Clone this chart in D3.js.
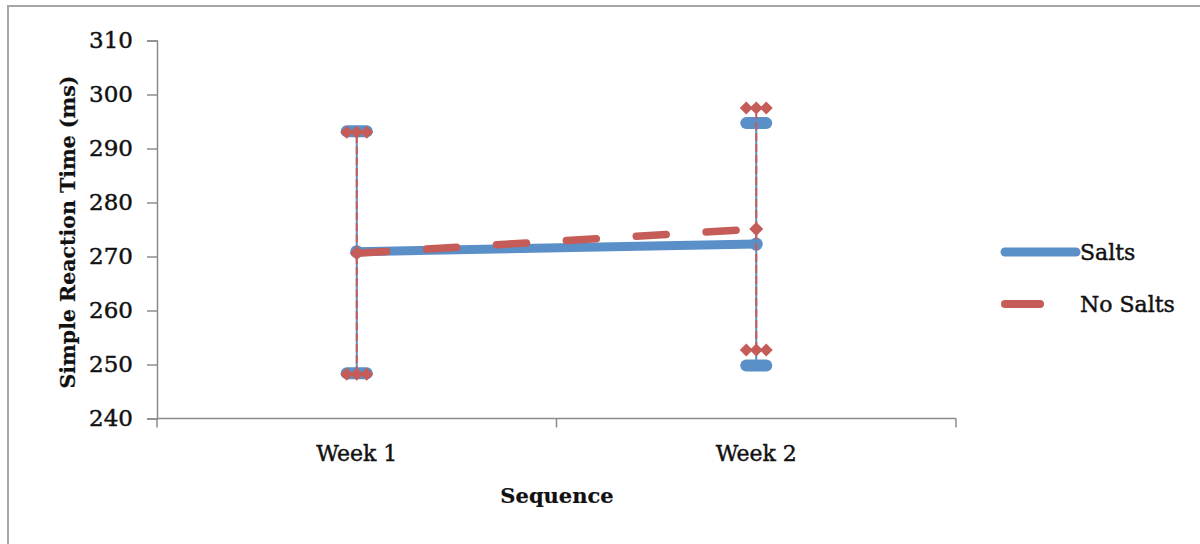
<!DOCTYPE html>
<html>
<head>
<meta charset="utf-8">
<script src="https://cdn.jsdelivr.net/npm/d3@7"></script>
<style>
  body { margin: 0; background: #fff; }
  text { font-family: "DejaVu Serif", "Liberation Serif", serif; fill: #111; stroke: #111; stroke-width: 0.45px; }
</style>
</head>
<body>
<div id="chart"></div>
<script>
// data
const weeks = ["Week 1", "Week 2"];
const saltsMean = [270.9, 272.3];
const saltsLow = [248.4, 249.8];
const saltsHigh = [293.2, 294.7];
const noSaltsMean = [270.6, 275.1];
const noSaltsLow = [248.2, 252.7];
const noSaltsHigh = [293.0, 297.5];
const yTicks = [240, 250, 260, 270, 280, 290, 300, 310];

const W = 1200, H = 544;
const blue = "#5b8fc8", red = "#c65c57", axisCol = "#8c8c8c";

const svg = d3.select("#chart").append("svg")
    .attr("width", W)
    .attr("height", H);

// chart frame
svg.append("rect")
    .attr("x", 8).attr("y", 6)
    .attr("width", W + 20).attr("height", H + 20)
    .attr("fill", "none")
    .attr("stroke", "#a6a6a6")
    .attr("stroke-width", 2);

var x = d3.scaleBand()
    .domain(weeks)
    .range([157, 956])
    .paddingInner(0).paddingOuter(0);

var y = d3.scaleLinear()
    .domain([240, 310])
    .range([418.5, 40.5]);

function cx(d) { return x(d) + x.bandwidth() / 2; }

// y axis
const yAxis = svg.append("g")
    .attr("transform", "translate(157,0)")
    .call(d3.axisLeft(y).tickValues(yTicks).tickSize(10).tickPadding(14));
yAxis.select(".domain").attr("stroke", axisCol).attr("stroke-width", 1.5);
yAxis.selectAll(".tick line").attr("stroke", axisCol).attr("stroke-width", 1.5);
yAxis.selectAll(".tick text")
    .style("font-size", "23px")
    .attr("fill", "#111");

// x axis with ticks at category boundaries
svg.append("line")
    .attr("x1", x.range()[0]).attr("x2", x.range()[1])
    .attr("y1", y(240)).attr("y2", y(240))
    .attr("stroke", axisCol).attr("stroke-width", 1.5);
const edges = weeks.map(function(d) { return x(d); }).concat([x.range()[1]]);
svg.selectAll(".xtick")
    .data(edges)
    .enter().append("line")
    .attr("x1", function(d) { return d; })
    .attr("x2", function(d) { return d; })
    .attr("y1", y(240)).attr("y2", y(240) + 9)
    .attr("stroke", axisCol).attr("stroke-width", 1.5);
svg.selectAll(".xlab")
    .data(weeks)
    .enter().append("text")
    .attr("x", cx)
    .attr("y", 461)
    .attr("text-anchor", "middle")
    .style("font-size", "22px")
    .text(function(d) { return d; });

// axis titles
svg.append("text")
    .attr("x", 557).attr("y", 503)
    .attr("text-anchor", "middle")
    .style("font-size", "21px")
    .style("font-weight", "bold")
    .style("stroke-width", "0.2px")
    .text("Sequence");

svg.append("text")
    .attr("transform", "translate(75,232)rotate(-90)")
    .attr("text-anchor", "middle")
    .style("font-size", "20.5px")
    .style("font-weight", "bold")
    .style("stroke-width", "0.2px")
    .text("Simple Reaction Time (ms)");

function diamond(g, px, py, s, color) {
    g.append("path")
        .attr("d", "M" + px + "," + (py - s) + "L" + (px + s) + "," + py +
              "L" + px + "," + (py + s) + "L" + (px - s) + "," + py + "Z")
        .attr("fill", color);
}

// Salts series
const gS = svg.append("g");
gS.append("path")
    .datum(weeks)
    .attr("d", d3.line()
        .x(cx)
        .y(function(d, i) { return y(saltsMean[i]); }))
    .attr("fill", "none")
    .attr("stroke", blue)
    .attr("stroke-width", 9)
    .attr("stroke-linecap", "round");
weeks.forEach(function(d, i) {
    gS.append("line")
        .attr("x1", cx(d)).attr("x2", cx(d))
        .attr("y1", y(saltsLow[i])).attr("y2", y(saltsHigh[i]))
        .attr("stroke", blue).attr("stroke-width", 2);
    [saltsLow[i], saltsHigh[i]].forEach(function(v) {
        gS.append("line")
            .attr("x1", cx(d) - 10).attr("x2", cx(d) + 10)
            .attr("y1", y(v)).attr("y2", y(v))
            .attr("stroke", blue).attr("stroke-width", 12)
            .attr("stroke-linecap", "round");
    });
    gS.append("circle")
        .attr("cx", cx(d)).attr("cy", y(saltsMean[i]))
        .attr("r", 6.5)
        .attr("fill", blue);
});

// No Salts series
const gN = svg.append("g");
gN.append("path")
    .datum(weeks)
    .attr("d", d3.line()
        .x(cx)
        .y(function(d, i) { return y(noSaltsMean[i]); }))
    .attr("fill", "none")
    .attr("stroke", red)
    .attr("stroke-width", 7.5)
    .attr("stroke-linecap", "round")
    .attr("stroke-dasharray", "30,40");
weeks.forEach(function(d, i) {
    gN.append("line")
        .attr("x1", cx(d)).attr("x2", cx(d))
        .attr("y1", y(noSaltsLow[i])).attr("y2", y(noSaltsHigh[i]))
        .attr("stroke", red).attr("stroke-width", 2)
        .attr("stroke-dasharray", "8,3");
    [noSaltsLow[i], noSaltsHigh[i]].forEach(function(v) {
        [-10, 0, 10].forEach(function(dx) {
            diamond(gN, cx(d) + dx, y(v), 6.5, red);
        });
    });
    diamond(gN, cx(d), y(noSaltsMean[i]), 7, red);
});

// legend
const legend = [
    {name: "Salts", color: blue, x2: 1076, width: 9, yy: 252},
    {name: "No Salts", color: red, x2: 1040, width: 8, yy: 304}
];
legend.forEach(function(l) {
    svg.append("line")
        .attr("x1", 1005).attr("x2", l.x2)
        .attr("y1", l.yy).attr("y2", l.yy)
        .attr("stroke", l.color)
        .attr("stroke-width", l.width)
        .attr("stroke-linecap", "round");
    svg.append("text")
        .attr("x", 1080).attr("y", l.yy + 8)
        .style("font-size", "22px")
        .text(l.name);
});
</script>
</body>
</html>
